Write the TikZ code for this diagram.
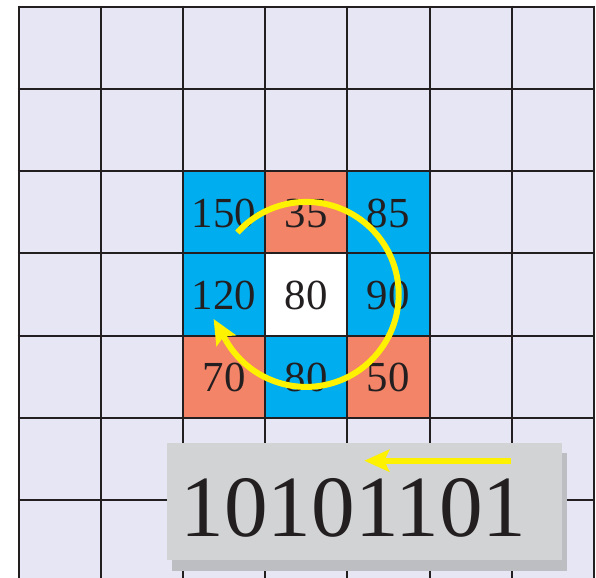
\documentclass[tikz,border=0pt]{standalone}
\usepackage{fontspec}
\setmainfont{Liberation Serif}
\usetikzlibrary{arrows.meta}
\definecolor{lav}{RGB}{231,230,244}
\definecolor{cyanb}{RGB}{0,174,239}
\definecolor{salm}{RGB}{243,132,104}
\definecolor{gridc}{RGB}{35,31,32}
\definecolor{boxg}{RGB}{209,211,212}
\definecolor{shad}{RGB}{188,190,194}
\definecolor{yel}{RGB}{255,242,0}
\begin{document}
\begin{tikzpicture}[x=1bp,y=-1bp,
  num/.style={font=\fontsize{43}{43}\selectfont, text=gridc, inner sep=0pt},
  gline/.style={draw=gridc, line width=2bp},
  yline/.style={draw=yel, line width=6bp},
  yarrow/.style={draw=yel, line width=6bp, -{Stealth[length=25bp,width=22bp,inset=5bp]}}]
\useasboundingbox (0,0) rectangle (596,578);
% background
\fill[lav] (18.5,6.7) rectangle (593.9,578);
% coloured cells
\fill[cyanb] (182.9,171.1) rectangle (265.1,253.3);
\fill[salm]  (265.1,171.1) rectangle (347.3,253.3);
\fill[cyanb] (347.3,171.1) rectangle (429.5,253.3);
\fill[cyanb] (182.9,253.3) rectangle (265.1,335.5);
\fill[white] (265.1,253.3) rectangle (347.3,335.5);
\fill[cyanb] (347.3,253.3) rectangle (429.5,335.5);
\fill[salm]  (182.9,335.5) rectangle (265.1,417.7);
\fill[cyanb] (265.1,335.5) rectangle (347.3,417.7);
\fill[salm]  (347.3,335.5) rectangle (429.5,417.7);
% grid
\foreach \x in {18.5,100.7,182.9,265.1,347.3,429.5,511.7,593.9}
  \draw[gline] (\x,5.7) -- (\x,578);
\foreach \y in {6.7,88.9,171.1,253.3,335.5,417.7,499.9}
  \draw[gline] (17.5,\y) -- (594.9,\y);
% numbers
\node[num] (a) at (224.0,213.4) {150};
\node[num] (b) at (306.2,213.4) {35};
\node[num] (c) at (388.4,213.4) {85};
\node[num] (d) at (224.0,295.6) {120};
\node[num] (e) at (306.2,295.6) {80};
\node[num] (f) at (388.4,295.6) {90};
\node[num] (g) at (224.0,377.4) {70};
\node[num] (h) at (306.2,377.4) {80};
\node[num] (i) at (388.4,377.4) {50};
% circular arrow
\coordinate (cc) at (306.2,294.4);
\coordinate (hb) at ([shift={(150:92.5)}]cc);
\coordinate (ht) at ([shift={(-12.5,-21.65)}]hb);
\draw[yline] ([shift={(-138:92.5)}]cc) arc[start angle=-138, end angle=150, radius=92.5];
\draw[yarrow] (hb) -- (ht);
% box with shadow
\fill[shad] (172,453) rectangle (566.7,570.7);
\fill[boxg] (167.3,443.3) rectangle (561.7,560);
\node[font=\fontsize{87.6}{87.6}\selectfont, text=gridc, inner sep=0pt, anchor=base west] (code) at (180.4,536.7) {10101101};
\coordinate (as) at (510.7,460.7);
\coordinate (ae) at (364.3,460.7);
\draw[yarrow] (as) -- (ae);
\end{tikzpicture}
\end{document}
